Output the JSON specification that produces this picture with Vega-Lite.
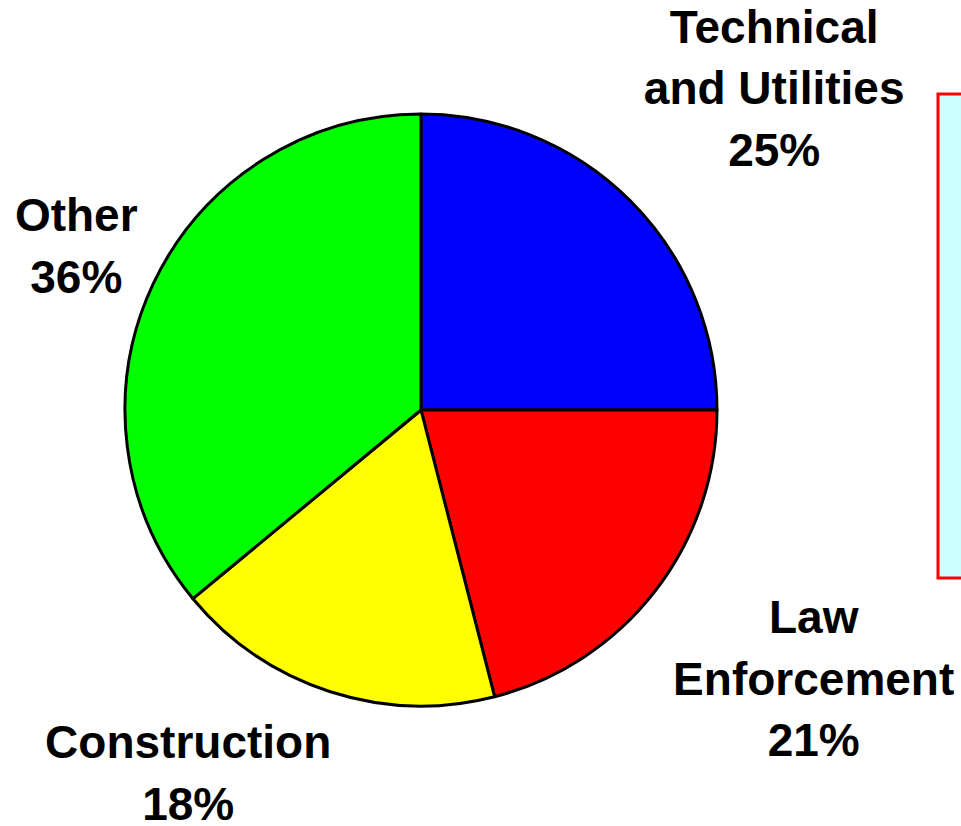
{
  "$schema": "https://vega.github.io/schema/vega-lite/v6.json",
  "autosize": {"type": "none"},
  "width": 842,
  "height": 820,
  "padding": {"left": 0, "top": 0, "right": 119, "bottom": 6},
  "background": "white",
  "config": {"view": {"stroke": null}, "legend": {"strokeWidth": 3}},
  "data": {
    "values": [
      {"category": "Technical and Utilities", "value": 25, "label": "Technical\nand Utilities\n25%"},
      {"category": "Law Enforcement", "value": 21, "label": "Law\nEnforcement\n21%"},
      {"category": "Construction", "value": 18, "label": "Construction\n18%"},
      {"category": "Other", "value": 36, "label": "Other\n36%"}
    ]
  },
  "transform": [{"window": [{"op": "row_number", "as": "idx"}]}],
  "encoding": {
    "theta": {"field": "value", "type": "quantitative", "stack": true, "scale": {"domain": [0, 100]}},
    "order": {"field": "idx", "type": "quantitative"}
  },
  "layer": [
    {
      "mark": {"type": "arc", "radius": 296, "stroke": "black", "strokeWidth": 3, "strokeJoin": "round"},
      "encoding": {
        "color": {
          "field": "category",
          "type": "nominal",
          "sort": ["Technical and Utilities", "Law Enforcement", "Construction", "Other"],
          "scale": {
            "domain": ["Technical and Utilities", "Law Enforcement", "Construction", "Other"],
            "range": ["#0000FF", "#FF0000", "#FFFF00", "#00FF00"]
          },
          "legend": {
            "orient": "none",
            "legendX": 938,
            "legendY": 94,
            "title": null,
            "fillColor": "#CCFFFF",
            "strokeColor": "#FF0000",
            "padding": 30,
            "labelExpr": "''",
            "labelFontSize": 36,
            "labelFont": "Liberation Sans",
            "symbolType": "square",
            "symbolSize": 1296,
            "symbolStrokeColor": "black",
            "rowPadding": 86
          }
        }
      }
    },
    {
      "mark": {
        "type": "text",
        "font": "Liberation Sans",
        "fontSize": 46,
        "fontWeight": "bold",
        "fill": "black",
        "align": "center",
        "baseline": "middle",
        "lineBreak": "\n",
        "lineHeight": 61.5,
        "radius": {"expr": "datum.category === 'Technical and Utilities' ? 474 : datum.category === 'Law Enforcement' ? 478 : datum.category === 'Construction' ? 420 : 381"},
        "dx": {"expr": "datum.category === 'Technical and Utilities' ? 18 : datum.category === 'Law Enforcement' ? 15 : datum.category === 'Construction' ? -103 : 0"},
        "dy": {"expr": "datum.category === 'Technical and Utilities' ? -46 : datum.category === 'Law Enforcement' ? -83.5 : datum.category === 'Construction' ? -65 : -30.5"}
      },
      "encoding": {
        "text": {"field": "label", "type": "nominal"},
        "detail": {"field": "category", "type": "nominal"}
      }
    }
  ]
}
